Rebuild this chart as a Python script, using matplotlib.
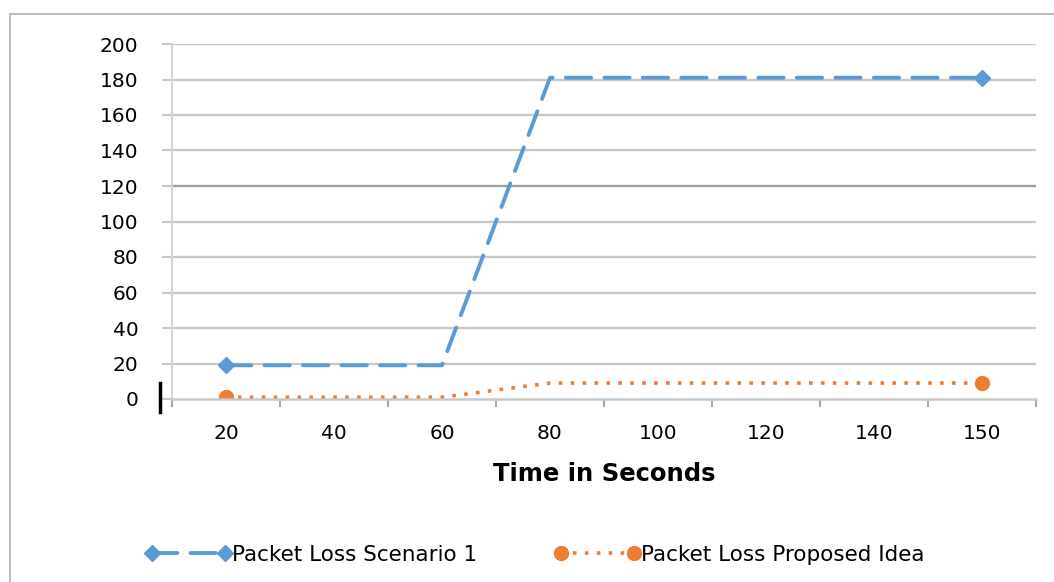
import matplotlib.pyplot as plt
from matplotlib.lines import Line2D
from matplotlib.patches import Rectangle
import numpy as np

plt.rcParams['font.family'] = ['DejaVu Sans']

times = ['20', '40', '60', '80', '100', '120', '140', '150']
loss_scenario1 = [19, 19, 19, 181, 181, 181, 181, 181]
loss_proposed = [1, 1, 1, 9, 9, 9, 9, 9]
y_ticks = [0, 20, 40, 60, 80, 100, 120, 140, 160, 180, 200]

blue = '#5B9BD5'
orange = '#ED7D31'
grid_gray = '#C8C8C8'

fig = plt.figure(figsize=(10.54, 5.82), dpi=100)
ax = fig.add_axes([172/1054, 1 - 399/582, (1036 - 172)/1054, (399 - 44)/582])

x = np.arange(len(times))
ends = [0, len(times) - 1]
ax.plot(x, loss_scenario1, color=blue, lw=2.8, dashes=(6.5, 3.4), marker='D',
        markersize=8.5, markevery=ends, label='Packet Loss Scenario 1',
        dash_capstyle='round')
ax.plot(x, loss_proposed, color=orange, lw=2.6, linestyle=(0, (1, 2.3)),
        marker='o', markersize=10, markevery=ends,
        label='Packet Loss Proposed Idea')

ax.set_xlim(-0.5, len(times) - 0.5)
ax.set_ylim(0, 200)
ax.set_yticks(y_ticks)
ax.set_xticks(x)
ax.set_xticklabels(times)
ax.set_xticks(np.arange(-0.5, len(times)), minor=True)

# horizontal grid, 120 drawn a bit darker
for v in y_ticks[1:]:
    ax.axhline(v, color='#A0A0A0' if v == 120 else grid_gray, lw=1.7, zorder=0)

for s in ['top', 'right']:
    ax.spines[s].set_visible(False)
ax.spines['left'].set_color('#D4D4D4')
ax.spines['left'].set_linewidth(1.5)
ax.spines['bottom'].set_color(grid_gray)
ax.spines['bottom'].set_linewidth(1.8)

ax.tick_params(axis='y', direction='out', length=7.2, width=1.5, color=grid_gray,
               labelsize=14.5, pad=17)
ax.tick_params(axis='x', which='major', length=0, labelsize=14.5, pad=18)
ax.tick_params(axis='x', which='minor', direction='out', length=6, width=1.5,
               color='#A8A8A8')

ax.set_xlabel('Time in Seconds', fontsize=17.5, fontweight='bold', labelpad=14)

fig.legend(loc='center', bbox_to_anchor=(535/1054, 1 - 555/582), ncol=2,
           frameon=False, fontsize=15.5, handlelength=4.0, numpoints=2,
           columnspacing=3.6, handletextpad=0)

# outer chart frame
fig.add_artist(Rectangle((10/1054, -0.1), 1.2, 1 - 14/582 + 0.1,
                         transform=fig.transFigure, fill=False,
                         edgecolor='#BDBDBD', lw=1.5))
fig.add_artist(Line2D([160/1054, 160/1054], [1 - 383/582, 1 - 412/582],
                      transform=fig.transFigure, color='black', lw=2.5))

plt.savefig('out.png', dpi=100)
